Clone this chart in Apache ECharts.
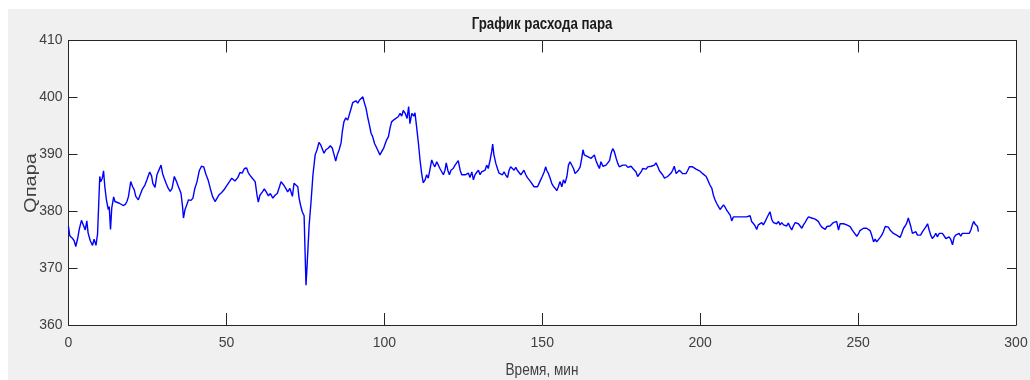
<!DOCTYPE html>
<html>
<head>
<meta charset="utf-8">
<script src="https://cdn.jsdelivr.net/npm/echarts@6/dist/echarts.min.js"></script>
<style>
  html, body { margin: 0; padding: 0; background: #ffffff; }
  body { width: 1030px; height: 380px; position: relative; overflow: hidden; }
  #chart { position: absolute; left: 8px; top: 9px; width: 1022px; height: 371px; background: #f0f0f0; }
</style>
</head>
<body>
<div id="chart"></div>
<script>
// Chart text
const titleText = 'График расхода пара';
const xName = 'Время, мин';
const yName = 'Qпара';

// Axis ranges / ticks
const xTicks = [0, 50, 100, 150, 200, 250, 300];
const yTicks = [360, 370, 380, 390, 400, 410];

// Time, minutes
const time = [
  0.0,0.4,1.3,1.8,2.3,2.9,3.4,4.1,4.7,5.3,5.8,6.2,6.9,7.6,8.1,8.7,9.2,9.6,9.9,10.2,
  10.7,11.1,11.5,12.0,12.6,12.9,13.3,13.7,14.3,14.7,15.3,16.1,16.6,17.3,18.0,18.5,19.0,19.7,20.3,20.8,
  21.3,22.1,22.7,23.4,24.2,24.8,25.7,26.3,26.7,27.4,28.0,28.6,29.3,29.8,30.3,30.9,31.6,32.2,32.8,33.5,
  34.2,34.8,35.6,36.1,36.4,36.9,37.5,38.0,38.8,39.4,40.0,40.7,41.4,42.1,42.8,43.5,44.2,44.9,45.6,46.4,
  47.0,47.7,48.5,49.3,50.0,50.6,51.7,52.7,53.6,54.3,55.0,55.7,56.4,56.9,57.6,58.2,59.1,59.7,60.1,60.6,
  61.4,62.0,62.6,63.3,63.9,64.7,65.4,66.1,66.8,67.3,68.0,68.8,69.4,70.1,70.9,71.4,72.0,72.6,73.0,73.5,
  74.0,74.6,74.9,75.2,75.6,76.2,76.8,77.4,78.1,78.7,79.3,79.9,80.4,80.9,81.5,82.3,82.9,83.5,84.1,84.6,
  85.1,85.7,86.3,86.7,87.2,87.8,88.4,88.9,89.5,90.0,90.5,91.0,91.6,92.1,92.6,93.2,93.7,94.2,94.7,95.3,
  95.8,96.3,96.9,97.6,98.1,98.6,99.2,99.8,100.2,100.7,101.3,101.8,102.3,103.1,103.7,104.4,105.0,105.5,106.0,106.6,
  107.2,107.7,108.1,108.7,109.3,109.7,110.2,110.8,111.3,111.8,112.3,112.9,113.4,113.9,114.5,115.0,115.5,116.0,116.6,117.1,
  117.6,118.2,118.7,119.2,119.6,120.1,120.6,121.1,121.8,122.4,122.9,123.4,124.0,124.5,125.0,125.6,126.1,126.6,127.1,127.7,
  128.2,128.7,129.2,129.8,130.3,130.8,131.4,131.9,132.4,132.9,133.5,134.0,134.3,134.7,135.3,135.8,136.3,136.8,137.4,137.9,
  138.4,139.0,139.5,140.0,140.5,141.1,141.6,142.1,142.7,143.2,143.7,144.2,144.8,145.3,145.8,146.3,146.9,147.4,147.9,148.5,
  149.0,149.5,150.0,150.6,151.1,151.4,151.9,152.5,153.0,153.5,154.1,154.6,155.1,155.6,156.2,156.7,157.2,157.8,158.3,158.8,
  159.3,159.9,160.4,160.9,161.4,162.0,162.5,162.9,163.3,163.9,164.4,164.9,165.5,166.0,166.5,167.0,167.6,168.1,168.6,169.2,
  169.7,170.2,170.7,171.3,171.8,172.3,172.8,173.4,173.9,174.4,175.0,175.5,176.0,176.5,177.1,177.6,178.1,178.7,179.2,179.7,
  180.2,180.8,181.3,181.8,182.3,182.9,183.4,183.9,184.5,185.0,185.5,186.0,186.6,187.1,187.6,188.1,188.7,189.2,189.7,190.3,
  190.8,191.3,191.8,192.4,192.9,193.4,194.0,194.5,195.0,195.5,196.1,196.6,197.1,197.6,198.2,198.7,199.2,199.8,200.3,200.8,
  201.3,201.9,202.4,203.1,203.7,204.2,204.7,205.2,205.8,206.3,206.8,207.4,207.9,208.4,208.9,209.5,210.0,210.5,211.1,211.6,
  212.1,212.6,213.2,213.7,214.2,214.7,215.3,215.8,216.3,216.9,217.4,217.9,218.4,219.0,219.5,220.0,220.6,221.1,221.6,222.1,
  222.7,223.2,223.7,224.2,224.8,225.3,225.8,226.4,226.9,227.4,227.9,228.5,229.0,229.5,230.1,230.6,231.1,231.6,232.2,232.7,
  233.2,233.7,234.3,234.8,235.3,235.9,236.4,236.9,237.4,238.0,238.5,239.0,239.6,240.1,240.6,241.1,241.7,242.2,242.7,243.2,
  243.8,244.3,244.8,245.4,245.9,246.4,246.9,247.5,248.0,248.5,249.0,249.6,250.1,250.6,251.2,251.7,252.2,252.7,253.3,253.8,
  254.3,254.9,255.4,255.9,256.4,257.0,257.5,258.0,258.6,259.1,259.6,260.1,260.7,261.2,261.7,262.2,262.8,263.3,263.8,264.4,
  264.9,265.4,265.9,266.3,266.7,267.2,267.7,268.3,268.8,269.3,269.8,270.4,270.9,271.4,272.0,272.5,273.0,273.5,274.1,274.6,
  275.1,275.7,276.2,276.7,277.2,277.8,278.3,278.8,279.3,279.9,280.4,280.9,281.5,282.0,282.5,283.0,283.6,284.1,284.6,285.2,
  285.7,286.2,286.6,287.1,287.5,287.8,288.1
];

// Steam flow Qпара
const qpara = [
  377.3,375.7,375.2,374.8,373.8,375.2,376.8,378.4,378.1,376.7,378.3,376.2,374.8,374.0,375.1,374.0,376.0,376.2,386.1,385.2,
  385.8,387.1,384.3,382.0,380.3,380.8,376.8,380.6,382.5,381.7,381.9,381.4,381.7,381.0,381.2,381.7,382.6,385.2,384.3,383.8,
  382.6,382.0,382.9,383.9,384.6,385.5,386.9,386.2,384.9,384.2,386.4,386.2,388.1,386.6,385.8,384.9,384.0,383.5,384.0,386.1,
  385.2,384.3,383.2,380.9,378.8,380.3,381.2,382.0,381.9,382.3,384.0,385.2,387.1,387.9,387.8,386.5,385.5,384.0,382.6,381.7,
  382.0,382.9,383.3,383.8,384.4,384.9,385.8,385.3,385.9,386.8,386.7,387.5,387.6,386.8,386.2,385.8,385.2,382.8,381.6,382.8,
  383.4,383.9,383.4,382.7,383.1,382.3,382.8,383.1,384.3,385.2,384.7,384.0,383.4,384.0,382.6,384.9,384.9,384.3,382.3,381.0,
  379.9,379.2,372.9,367.0,371.1,377.6,381.7,386.4,389.9,390.8,392.1,391.6,391.8,390.2,390.8,391.1,391.5,391.1,389.9,388.8,
  389.9,390.8,392.0,394.0,395.7,396.4,396.0,396.3,398.1,399.1,399.0,399.4,399.0,399.5,399.3,400.1,399.0,398.1,396.6,395.1,
  393.7,393.1,391.9,391.1,390.5,389.9,390.5,391.1,390.8,392.5,393.1,394.6,395.7,396.1,396.3,396.6,397.2,396.7,397.7,397.2,
  396.3,398.4,395.4,397.2,396.7,397.3,394.9,391.9,389.0,386.7,385.0,385.5,386.4,385.8,387.5,389.0,388.3,387.8,388.7,388.4,
  387.5,387.2,386.4,387.2,388.5,387.2,386.4,387.2,387.5,388.1,388.4,388.9,387.2,386.4,386.1,386.4,386.2,386.7,385.9,386.9,
  385.5,386.4,386.8,387.2,386.4,386.9,386.7,387.2,388.1,387.5,389.0,390.5,391.8,389.9,388.4,387.5,386.7,386.9,386.4,386.9,
  386.4,385.9,387.2,387.8,388.1,387.2,387.7,387.2,386.9,386.4,386.7,387.2,386.4,385.9,385.8,385.2,384.9,384.3,384.0,384.3,
  384.2,385.5,386.1,386.9,387.8,387.2,386.7,385.8,384.9,384.4,384.0,383.6,384.3,385.2,384.3,385.5,384.9,386.1,388.1,388.7,
  388.4,387.5,386.6,386.9,387.2,387.8,389.3,390.8,389.9,390.1,389.6,389.7,389.3,389.0,389.9,388.9,388.1,387.5,388.7,387.9,
  387.7,388.1,387.8,388.9,390.2,391.0,390.5,389.3,388.4,387.8,387.5,388.1,387.8,388.1,387.7,387.5,387.9,387.5,387.2,386.9,
  386.1,386.4,386.9,387.5,387.8,387.4,387.8,387.5,387.9,387.7,388.1,388.5,387.8,387.1,386.9,386.4,385.8,386.0,386.1,386.4,
  386.7,387.2,387.9,386.6,386.9,387.2,386.9,386.6,386.9,386.6,387.2,387.8,387.9,387.8,387.5,387.4,387.5,387.1,386.9,386.6,
  386.4,386.1,385.5,384.6,384.0,382.8,382.0,381.4,380.8,380.3,380.5,381.1,380.7,380.2,380.1,379.3,378.3,379.0,379.3,379.0,
  379.2,379.0,379.2,379.0,379.3,379.0,379.3,379.2,378.2,377.8,377.4,376.8,377.6,377.9,378.0,377.6,378.2,378.8,378.5,379.9,
  378.5,378.0,378.2,377.8,378.2,377.6,378.0,377.6,377.9,377.4,377.9,377.2,376.7,377.4,378.0,378.2,377.8,378.0,377.0,377.6,
  378.0,378.5,379.0,379.2,378.8,379.0,378.6,378.8,378.2,377.6,377.2,377.3,376.8,377.3,377.0,377.4,377.6,378.0,377.8,378.2,
  376.7,377.8,378.0,377.8,378.0,377.6,377.9,377.3,376.8,376.4,376.1,375.6,376.0,376.6,376.8,377.0,377.3,377.0,377.3,376.6,
  375.8,374.6,375.1,374.6,374.9,375.4,375.8,376.4,377.3,377.6,377.2,376.7,376.6,376.1,376.2,375.8,375.5,375.4,376.1,377.0,
  377.4,377.9,378.8,378.9,377.3,376.1,375.8,376.4,375.8,376.1,375.8,376.4,376.1,377.2,377.8,376.7,375.8,375.2,375.6,376.1,
  375.5,376.1,375.8,376.1,376.4,375.2,374.9,375.5,375.1,374.1,375.4,375.8,375.5,376.1,375.6,376.1,375.8,376.1,376.4,376.1,
  376.7,377.6,378.2,377.7,377.6,377.3,376.4
];

const seriesData = time.map((t, i) => [t, qpara[i]]);

const axisColor = '#262626';
const labelColor = '#404040';
const fontMain = "'Liberation Sans', Arial, Helvetica, sans-serif";

const chart = echarts.init(document.getElementById('chart'), null, { renderer: 'canvas' });

const xMin = xTicks[0], xMax = xTicks[xTicks.length - 1], xStep = xTicks[1] - xTicks[0];
const yMin = yTicks[0], yMax = yTicks[yTicks.length - 1], yStep = yTicks[1] - yTicks[0];

chart.setOption({
  animation: false,
  backgroundColor: 'transparent',
  grid: {
    left: 60.5, top: 31.5, right: 14, bottom: 55,
    containLabel: false, outerBoundsMode: 'none',
    show: true, backgroundColor: '#ffffff', borderWidth: 0
  },
  graphic: [{
    type: 'text',
    x: 534, y: 16,
    scaleX: 0.83,
    style: {
      text: titleText,
      fill: '#1a1a1a',
      font: "bold 16px " + fontMain,
      textAlign: 'center',
      textVerticalAlign: 'middle'
    },
    z: 10
  }, {
    type: 'text',
    x: 534, y: 361,
    scaleX: 0.8,
    style: {
      text: xName,
      fill: labelColor,
      font: "17px " + fontMain,
      textAlign: 'center',
      textVerticalAlign: 'middle'
    },
    z: 10
  }, {
    type: 'text',
    x: 24, y: 174,
    rotation: Math.PI / 2,
    scaleY: 0.8,
    style: {
      text: yName,
      fill: labelColor,
      font: "20px " + fontMain,
      textAlign: 'center',
      textVerticalAlign: 'middle'
    },
    z: 10
  }],
  xAxis: [{
    type: 'value',
    position: 'bottom',
    min: xMin, max: xMax, interval: xStep,
    axisLine: { show: true, onZero: false, lineStyle: { color: axisColor, width: 1 } },
    axisTick: { show: true, inside: true, length: 12, lineStyle: { color: axisColor, width: 1 } },
    axisLabel: { color: labelColor, fontSize: 14, fontFamily: fontMain, margin: 11 },
    splitLine: { show: false }
  }, {
    type: 'value',
    position: 'top',
    min: xMin, max: xMax, interval: xStep,
    axisLine: { show: true, onZero: false, lineStyle: { color: axisColor, width: 1 } },
    axisTick: { show: true, inside: true, length: 12, lineStyle: { color: axisColor, width: 1 } },
    axisLabel: { show: false },
    splitLine: { show: false }
  }],
  yAxis: [{
    type: 'value',
    position: 'left',
    min: yMin, max: yMax, interval: yStep,
    axisLine: { show: true, onZero: false, lineStyle: { color: axisColor, width: 1 } },
    axisTick: { show: true, inside: true, length: 9, lineStyle: { color: axisColor, width: 1 } },
    axisLabel: { color: labelColor, fontSize: 14, fontFamily: fontMain, margin: 6 },
    splitLine: { show: false }
  }, {
    type: 'value',
    position: 'right',
    min: yMin, max: yMax, interval: yStep,
    axisLine: { show: true, onZero: false, lineStyle: { color: axisColor, width: 1 } },
    axisTick: { show: true, inside: true, length: 9, lineStyle: { color: axisColor, width: 1 } },
    axisLabel: { show: false },
    splitLine: { show: false }
  }],
  series: [{
    type: 'line',
    xAxisIndex: 0,
    yAxisIndex: 0,
    data: seriesData,
    showSymbol: false,
    symbol: 'none',
    lineStyle: { color: '#0000ff', width: 1.4 },
    z: 3
  }]
});
</script>
</body>
</html>
